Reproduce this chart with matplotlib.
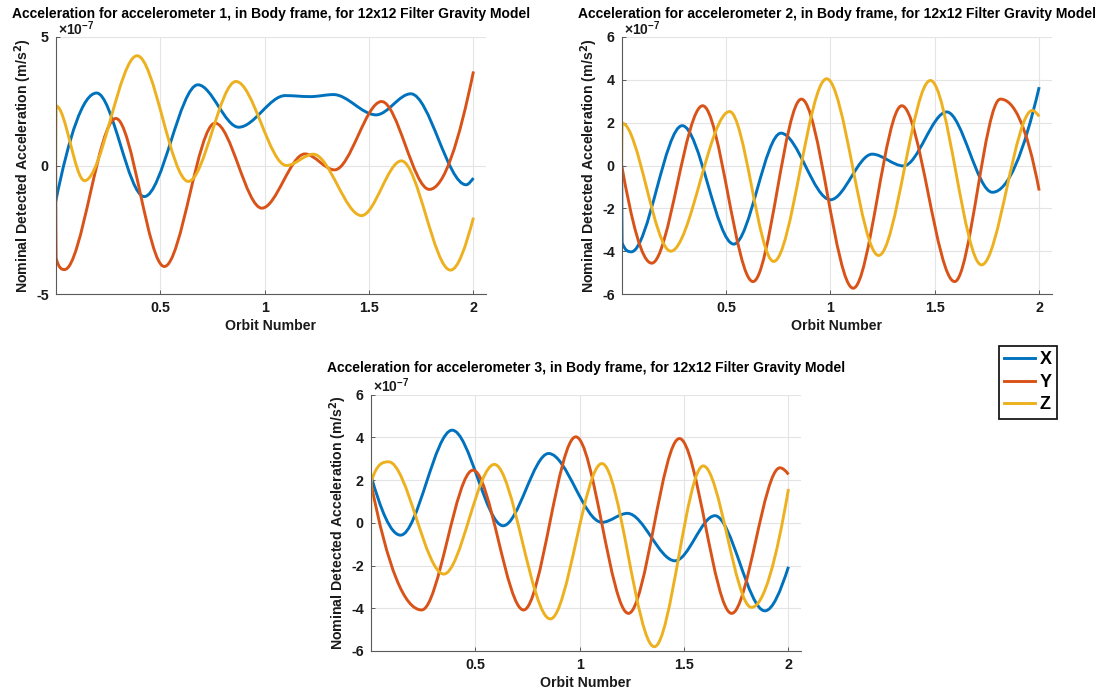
import numpy as np
import matplotlib
matplotlib.use("Agg")
import matplotlib.pyplot as plt
from matplotlib.path import Path
from matplotlib.patches import PathPatch
from matplotlib.lines import Line2D

plt.rcParams["font.family"] = ["Liberation Sans", "DejaVu Sans"]
plt.rcParams["font.weight"] = "bold"
plt.rcParams["axes.titleweight"] = "bold"
plt.rcParams["axes.labelweight"] = "bold"
plt.rcParams["axes.unicode_minus"] = False
plt.rcParams["mathtext.fontset"] = "custom"
plt.rcParams["mathtext.rm"] = "Liberation Sans"
plt.rcParams["mathtext.default"] = "rm"

# ---- data: orbit number vs. detected acceleration (units of 1e-7 m/s^2) ----
# accelerometer 1
a1_x_orbit = [0.0, 0.196, 0.424, 0.681, 0.876, 1.099, 1.219, 1.33, 1.534, 1.70, 1.965, 2.0]
a1_x_accel = [-1.4, 2.82, -1.21, 3.14, 1.49, 2.72, 2.68, 2.76, 1.97, 2.79, -0.75, -0.49]
a1_y_orbit = [0.0, 0.002, 0.042, 0.288, 0.52, 0.763, 0.987, 1.193, 1.335, 1.56, 1.789, 2.0]
a1_y_accel = [0.0, -3.6, -4.05, 1.83, -3.93, 1.65, -1.66, 0.45, -0.17, 2.49, -0.93, 3.66]
a1_z_orbit = [0.0, 0.002, 0.138, 0.39, 0.635, 0.863, 1.105, 1.233, 1.464, 1.655, 1.89, 2.0]
a1_z_accel = [0.0, 2.32, -0.59, 4.27, -0.62, 3.27, 0.0, 0.44, -1.95, 0.18, -4.07, -2.03]

# accelerometer 2
a2_x_orbit = [0.0, 0.002, 0.046, 0.29, 0.537, 0.763, 1.0, 1.2, 1.35, 1.557, 1.776, 2.0]
a2_x_accel = [0.0, -3.6, -4.03, 1.86, -3.67, 1.51, -1.6, 0.53, -0.02, 2.5, -1.25, 3.66]
a2_y_orbit = [0.0, 0.144, 0.388, 0.629, 0.861, 1.109, 1.342, 1.595, 1.814, 2.0]
a2_y_accel = [0.0, -4.56, 2.79, -5.42, 3.1, -5.73, 2.79, -5.42, 3.1, -1.17]
a2_z_orbit = [0.0, 0.002, 0.235, 0.517, 0.728, 0.982, 1.231, 1.479, 1.724, 1.967, 2.0]
a2_z_accel = [0.0, 1.98, -4.0, 2.52, -4.48, 4.05, -4.2, 3.97, -4.64, 2.57, 2.29]

# accelerometer 3
a3_x_orbit = [0.0, 0.143, 0.39, 0.634, 0.852, 1.107, 1.229, 1.457, 1.648, 1.887, 2.0]
a3_x_accel = [2.25, -0.58, 4.33, -0.14, 3.24, 0.02, 0.44, -1.78, 0.33, -4.12, -2.06]
a3_y_orbit = [0.0, 0.244, 0.49, 0.732, 0.982, 1.234, 1.478, 1.728, 1.959, 2.0]
a3_y_accel = [1.93, -4.08, 2.46, -4.08, 4.02, -4.24, 3.94, -4.24, 2.57, 2.26]
a3_z_orbit = [0.0, 0.002, 0.086, 0.35, 0.592, 0.86, 1.107, 1.358, 1.592, 1.823, 2.0]
a3_z_accel = [0.0, 1.9, 2.85, -2.4, 2.73, -4.5, 2.77, -5.8, 2.66, -3.96, 1.58]

series_labels = ["X", "Y", "Z"]
series_colors = ["#0072BD", "#D95319", "#EDB120"]

panels = [
    dict(title="Acceleration for accelerometer 1, in Body frame, for 12x12 Filter Gravity Model",
         series=[(a1_x_orbit, a1_x_accel), (a1_y_orbit, a1_y_accel), (a1_z_orbit, a1_z_accel)],
         ylim=(-5, 5), yticks=[-5, 0, 5]),
    dict(title="Acceleration for accelerometer 2, in Body frame, for 12x12 Filter Gravity Model",
         series=[(a2_x_orbit, a2_x_accel), (a2_y_orbit, a2_y_accel), (a2_z_orbit, a2_z_accel)],
         ylim=(-6, 6), yticks=[-6, -4, -2, 0, 2, 4, 6]),
    dict(title="Acceleration for accelerometer 3, in Body frame, for 12x12 Filter Gravity Model",
         series=[(a3_x_orbit, a3_x_accel), (a3_y_orbit, a3_y_accel), (a3_z_orbit, a3_z_accel)],
         ylim=(-6, 6), yticks=[-6, -4, -2, 0, 2, 4, 6]),
]
xticks = [0.5, 1, 1.5, 2]


def _end_slope(h0, h1, d0, d1):
    d = ((2 * h0 + h1) * d0 - h0 * d1) / (h0 + h1)
    if np.sign(d) != np.sign(d0):
        return 0.0
    if np.sign(d0) != np.sign(d1) and abs(d) > abs(3 * d0):
        return 3 * d0
    return d


def smooth_path(x, y):
    """Monotone cubic Bezier path through the given samples."""
    x = np.asarray(x, float)
    y = np.asarray(y, float)
    h = np.diff(x)
    delta = np.diff(y) / h
    n = len(x)
    d = np.zeros(n)
    for k in range(1, n - 1):
        if delta[k - 1] * delta[k] > 0:
            w1 = 2 * h[k] + h[k - 1]
            w2 = h[k] + 2 * h[k - 1]
            d[k] = (w1 + w2) / (w1 / delta[k - 1] + w2 / delta[k])
    d[0] = _end_slope(h[0], h[1], delta[0], delta[1])
    d[-1] = _end_slope(h[-1], h[-2], delta[-1], delta[-2])
    verts = [(x[0], y[0])]
    codes = [Path.MOVETO]
    for i in range(n - 1):
        hi = h[i]
        verts += [(x[i] + hi / 3, y[i] + d[i] * hi / 3),
                  (x[i + 1] - hi / 3, y[i + 1] - d[i + 1] * hi / 3),
                  (x[i + 1], y[i + 1])]
        codes += [Path.CURVE4] * 3
    return Path(verts, codes)


fig = plt.figure(figsize=(11.04, 6.93), dpi=100)
W, H = 1104, 693
axes_px = [(55.7, 37, 430.3, 257), (621.7, 37, 430, 257), (370.7, 394.5, 430.3, 256.5)]
title_pads = [14, 14, 16.5]

axis_color = "#5a5a5a"
for (left, top, w, h), panel, tpad in zip(axes_px, panels, title_pads):
    ax = fig.add_axes([left / W, 1 - (top + h) / H, w / W, h / H])
    for (xs, ys), col in zip(panel["series"], series_colors):
        ax.add_patch(PathPatch(smooth_path(xs, ys), fill=False, edgecolor=col,
                               lw=2.1, joinstyle="round", capstyle="butt"))
    ax.set_xlim(0, 2.06)
    ax.set_ylim(*panel["ylim"])
    ax.set_xticks(xticks)
    ax.set_xticklabels(["0.5", "1", "1.5", "2"])
    ax.set_yticks(panel["yticks"])
    ax.set_yticklabels([str(v) for v in panel["yticks"]])
    ax.grid(True, color="#e4e4e4", lw=0.8)
    ax.set_axisbelow(True)
    for s in ("top", "right"):
        ax.spines[s].set_visible(False)
    for s in ("left", "bottom"):
        ax.spines[s].set_color(axis_color)
        ax.spines[s].set_linewidth(0.8)
    ax.tick_params(direction="in", length=3, width=0.7, color=axis_color,
                   labelsize=10.3, labelcolor="#1a1a1a")
    ax.tick_params(axis="x", pad=5)
    ax.tick_params(axis="y", pad=5)
    ax.set_xlabel("Orbit Number", fontsize=10.2, labelpad=3, color="#1a1a1a")
    ax.set_ylabel("Nominal Detected Acceleration (m/s$^{\\mathbf{2}}$)", fontsize=10.2,
                  labelpad=1.5, color="#1a1a1a")
    ax.set_title(panel["title"], fontsize=10, pad=tpad, color="#000000")
    ax.annotate(r"$\times10^{-7}$", xy=(0, 1), xycoords="axes fraction",
                xytext=(1.5, 1.5), textcoords="offset points", ha="left", va="baseline",
                fontsize=10, fontweight="normal", color="#1a1a1a")

handles = [Line2D([], [], color=c, lw=2.1) for c in series_colors]
leg = fig.legend(handles, series_labels, loc="upper left",
                 bbox_to_anchor=(999 / W, 1 - 346 / H), bbox_transform=fig.transFigure,
                 fontsize=13, handlelength=1.7, handletextpad=0.25, borderpad=0.3,
                 labelspacing=0.3, borderaxespad=0, fancybox=False, framealpha=1)
leg.get_frame().set_edgecolor("#1a1a1a")
leg.get_frame().set_linewidth(1.3)
for t in leg.get_texts():
    t.set_fontweight("bold")

fig.savefig("out.png", dpi=100)
